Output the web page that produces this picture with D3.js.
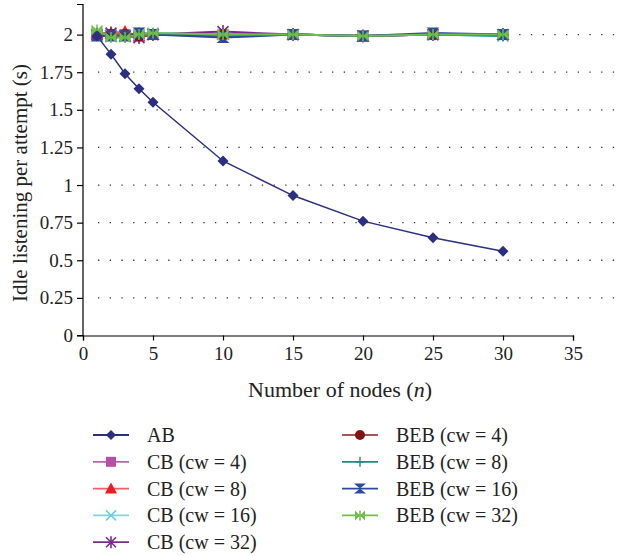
<!DOCTYPE html>
<html><head><meta charset="utf-8">
<script src="https://cdn.jsdelivr.net/npm/d3@7"></script>
<style>body{margin:0;background:#fff}svg{display:block}text{font-family:"Liberation Serif","Times New Roman",serif;fill:#222}</style>
</head><body><svg id="c" width="635" height="556"></svg>
<script>
const nodes = [1,2,3,4,5,10,15,20,25,30];
const AB      = [1.99,1.87,1.74,1.64,1.55,1.16,0.93,0.76,0.65,0.56];
const CB4     = [2.00,2.00,2.00,2.00,2.00,2.00,2.00,1.99,2.00,2.00];
const CB8     = [2.01,2.01,2.02,1.99,2.00,2.00,2.00,1.99,2.00,2.00];
const CB16    = [2.00,1.99,1.99,2.00,2.01,2.00,2.00,1.99,2.00,1.99];
const CB32    = [2.00,2.01,1.99,1.98,2.00,2.02,2.00,1.99,2.00,2.00];
const BEB4    = [2.00,2.00,2.00,1.99,2.00,2.00,2.00,1.99,2.00,2.00];
const BEB8    = [2.00,1.99,1.99,2.01,2.00,1.99,2.00,1.99,2.00,1.99];
const BEB16   = [1.99,1.99,1.99,2.01,2.00,1.98,2.00,1.99,2.01,2.00];
const BEB32   = [2.03,1.98,1.98,2.00,2.01,2.00,2.00,1.99,2.00,2.00];
const seriesNames = ["AB","CB (cw = 4)","CB (cw = 8)","CB (cw = 16)","CB (cw = 32)","BEB (cw = 4)","BEB (cw = 8)","BEB (cw = 16)","BEB (cw = 32)"];
const yTicks = [0,0.25,0.5,0.75,1,1.25,1.5,1.75,2];
const xTicks = [0,5,10,15,20,25,30,35];

const series = [
  {name:seriesNames[0], v:AB,   line:"#2b2f80", fill:"#2b2f80", m:"diamond"},
  {name:seriesNames[1], v:CB4,  line:"#c060b0", fill:"#b84fa6", m:"square"},
  {name:seriesNames[2], v:CB8,  line:"#f06060", fill:"#ed1c24", m:"triangle"},
  {name:seriesNames[3], v:CB16, line:"#7fd3e3", fill:"#6dcfe0", m:"x"},
  {name:seriesNames[4], v:CB32, line:"#7b2a8b", fill:"#7b2a8b", m:"star"},
  {name:seriesNames[5], v:BEB4, line:"#a85656", fill:"#7f1416", m:"circle"},
  {name:seriesNames[6], v:BEB8, line:"#1f8c80", fill:"#1f8c80", m:"plus"},
  {name:seriesNames[7], v:BEB16,line:"#2e4a9e", fill:"#2e4a9e", m:"hourglass"},
  {name:seriesNames[8], v:BEB32,line:"#6cc04a", fill:"#6cc04a", m:"bowtie"}
];

const svg = d3.select("#c");
const x = d3.scaleLinear().domain([0,35]).range([83,573]);
const y = d3.scaleLinear().domain([0,2.2]).range([335.5,4.5]);
const gridRight = 617;

// gridlines
svg.append("g").selectAll("line").data(yTicks.filter(d=>d>0)).join("line")
  .attr("x1",x(0)+15).attr("x2",gridRight).attr("y1",d=>y(d)).attr("y2",d=>y(d))
  .attr("stroke","#333").attr("stroke-width",1.3).attr("stroke-dasharray","1.3,10.4");

// axes
const yAxis = d3.axisLeft(y).tickValues(yTicks).tickSize(6).tickPadding(4).tickFormat(d=>String(d));
const xAxis = d3.axisBottom(x).tickValues(xTicks).tickSize(5).tickPadding(6).tickFormat(d=>String(d));
const gy = svg.append("g").attr("transform",`translate(${x(0)},0)`).call(yAxis);
const gx = svg.append("g").attr("transform",`translate(0,${y(0)})`).call(xAxis);
[gx,gy].forEach(g=>{
  g.attr("font-family",null);
  g.select(".domain").attr("stroke","#000").attr("stroke-width",1.2);
  g.selectAll(".tick line").attr("stroke","#000").attr("stroke-width",1.2);
  g.selectAll(".tick text").attr("font-size",19).attr("fill","#222").attr("font-family","Liberation Serif, serif");
});
gy.select(".domain").attr("d",`M-6,${y(2.2)}H0V${y(0)}H-6`);

// axis titles
const xt = svg.append("text").attr("x",340).attr("y",397).attr("text-anchor","middle").attr("font-size",22);
xt.append("tspan").text("Number of nodes (");
xt.append("tspan").attr("font-style","italic").text("n");
xt.append("tspan").text(")");
svg.append("text").attr("transform","translate(27,183) rotate(-90)").attr("text-anchor","middle")
  .attr("font-size",21).text("Idle listening per attempt (s)");

function marker(g, type, color, s){
  s = s||5;
  switch(type){
    case "diamond": g.append("path").attr("d",`M0,${-s}L${s},0L0,${s}L${-s},0Z`).attr("fill",color); break;
    case "square": g.append("rect").attr("x",-s).attr("y",-s).attr("width",2*s).attr("height",2*s).attr("fill",color); break;
    case "triangle": g.append("path").attr("d",`M0,${-s-1}L${s+1},${s}L${-s-1},${s}Z`).attr("fill",color); break;
    case "x": g.append("path").attr("d",`M${-s},${-s}L${s},${s}M${s},${-s}L${-s},${s}`).attr("stroke",color).attr("stroke-width",1.6); break;
    case "star": g.append("path").attr("d",`M${-s},${-s}L${s},${s}M${s},${-s}L${-s},${s}M0,${-s-1}V${s+1}`).attr("stroke",color).attr("stroke-width",1.6); break;
    case "circle": g.append("circle").attr("r",s).attr("fill",color); break;
    case "plus": g.append("path").attr("d",`M${-s},0H${s}M0,${-s}V${s}`).attr("stroke",color).attr("stroke-width",1.4); break;
    case "hourglass": g.append("path").attr("d",`M${-s-1},${-s}H${s+1}L${-s-1},${s}H${s+1}Z`).attr("fill",color); break;
    case "bowtie": g.append("path").attr("d",`M${-s},${-s}V${s}L${s},${-s}V${s}Z`).attr("fill",color);
      g.append("path").attr("d",`M0,${-s}V${s}`).attr("stroke",color).attr("stroke-width",1.5); break;
  }
}

const line = d3.line().x(d=>x(d[0])).y(d=>y(d[1]));
const plot = svg.append("g");
series.forEach((s,i)=>{
  const pts = nodes.map((n,j)=>[n,s.v[j]]);
  plot.append("path").attr("d",line(pts)).attr("fill","none").attr("stroke",s.line).attr("stroke-width",i===0?1.5:2);
});
series.slice(1).concat([series[0]]).forEach(s=>{
  const pts = nodes.map((n,j)=>[n,s.v[j]]);
  pts.forEach(p=>{ const g=plot.append("g").attr("transform",`translate(${x(p[0])},${y(p[1])})`); marker(g,s.m,s.fill,5.5); });
});

// legend
const leg = svg.append("g");
series.forEach((s,i)=>{
  const col = i<5?0:1, row = i<5?i:i-5;
  const lx = col===0?93:342, ly = 435+row*26.8;
  const g = leg.append("g").attr("transform",`translate(${lx},${ly})`);
  g.append("line").attr("x1",0).attr("x2",36).attr("stroke",s.line).attr("stroke-width",1.8);
  marker(g.append("g").attr("transform","translate(18,0)"), s.m, s.fill, 5);
  g.append("text").attr("x",54).attr("y",7).attr("font-size",20).text(s.name);
});
</script></body></html>
